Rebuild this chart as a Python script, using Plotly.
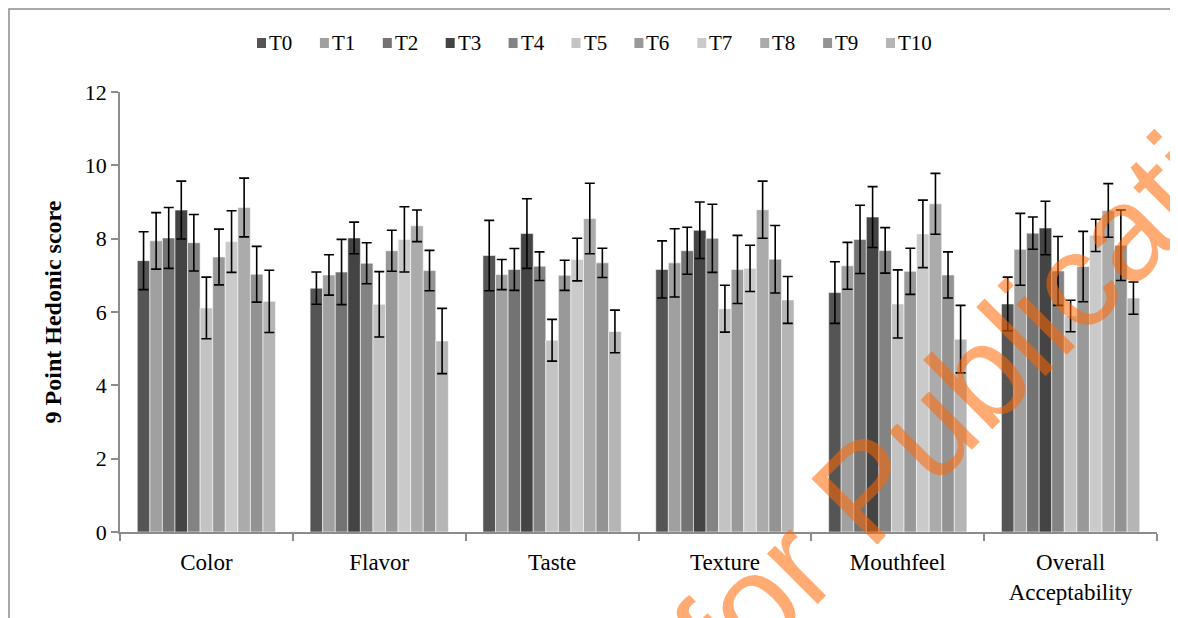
import plotly.graph_objects as go

categories = ["Color", "Flavor", "Taste", "Texture", "Mouthfeel", "Overall<br>Acceptability"]
treatments = ["T0", "T1", "T2", "T3", "T4", "T5", "T6", "T7", "T8", "T9", "T10"]

T0 = [7.40, 6.65, 7.54, 7.16, 6.53, 6.22]
T1 = [7.94, 7.01, 7.02, 7.34, 7.26, 7.71]
T2 = [8.02, 7.09, 7.16, 7.67, 7.98, 8.15]
T3 = [8.78, 8.02, 8.14, 8.23, 8.59, 8.29]
T4 = [7.89, 7.33, 7.25, 8.01, 7.68, 7.12]
T5 = [6.11, 6.21, 5.23, 6.09, 6.22, 5.89]
T6 = [7.50, 7.67, 7.00, 7.16, 7.11, 7.24]
T7 = [7.92, 7.98, 7.43, 7.19, 8.13, 8.09]
T8 = [8.85, 8.35, 8.55, 8.79, 8.95, 8.77]
T9 = [7.03, 7.13, 7.34, 7.44, 7.01, 7.82]
T10 = [6.29, 5.21, 5.47, 6.33, 5.26, 6.38]

E0 = [0.79, 0.44, 0.96, 0.78, 0.84, 0.73]
E1 = [0.77, 0.55, 0.41, 0.93, 0.64, 0.98]
E2 = [0.83, 0.89, 0.57, 0.64, 0.93, 0.44]
E3 = [0.79, 0.43, 0.95, 0.77, 0.83, 0.73]
E4 = [0.77, 0.56, 0.39, 0.93, 0.62, 0.94]
E5 = [0.84, 0.89, 0.57, 0.64, 0.93, 0.43]
E6 = [0.76, 0.56, 0.41, 0.93, 0.63, 0.96]
E7 = [0.84, 0.89, 0.58, 0.63, 0.92, 0.44]
E8 = [0.80, 0.43, 0.96, 0.78, 0.83, 0.73]
E9 = [0.76, 0.55, 0.40, 0.92, 0.63, 0.96]
E10 = [0.85, 0.89, 0.58, 0.64, 0.92, 0.44]

means = [T0, T1, T2, T3, T4, T5, T6, T7, T8, T9, T10]
errors = [E0, E1, E2, E3, E4, E5, E6, E7, E8, E9, E10]
colors = ["#555555", "#a0a0a0", "#737373", "#444444", "#838383", "#c3c3c3",
          "#999999", "#cacaca", "#ababab", "#939393", "#b5b5b5"]

FONT = "Liberation Serif, Times New Roman, serif"

# page layout (page pixels; the html body adds an 8px offset)
OFF = 8
PX_L, PX_R, PX_T, PX_B = 120, 1157, 92, 532
FIG_W, FIG_H = 1178 - OFF, 618 - OFF


def px2x(px):
    return (px - PX_L) / (PX_R - PX_L)


def py2y(py):
    return (PX_B - py) / (PX_B - PX_T)


fig = go.Figure()
for name, m, e, c in zip(treatments, means, errors, colors):
    fig.add_trace(go.Bar(
        name=name, x=categories, y=m, showlegend=False,
        marker=dict(color=c, line=dict(color="rgba(255,255,255,0.55)", width=1)),
        error_y=dict(type="data", array=e, visible=True, color="black",
                     thickness=1.6, width=5),
    ))

shapes = [dict(type="rect", xref="paper", yref="paper",
               x0=px2x(OFF + 1), x1=px2x(1195), y0=py2y(640), y1=py2y(OFF + 1),
               line=dict(color="#8c8c8c", width=1.5), fillcolor="rgba(0,0,0,0)",
               layer="below")]
annotations = []

# legend drawn as swatches + labels across the top
leg_x0, leg_pitch, leg_y = 257, 62.9, 43
for i, (name, c) in enumerate(zip(treatments, colors)):
    sx = leg_x0 + i * leg_pitch
    shapes.append(dict(type="rect", xref="paper", yref="paper",
                       x0=px2x(sx), x1=px2x(sx + 9), y0=py2y(leg_y + 5), y1=py2y(leg_y - 5),
                       fillcolor=c, line=dict(width=0)))
    annotations.append(dict(text=name, xref="paper", yref="paper",
                            x=px2x(sx + 10), y=py2y(leg_y), xanchor="left", yanchor="middle",
                            showarrow=False, font=dict(family=FONT, size=21, color="black")))

annotations.append(dict(text="for Publication", xref="paper", yref="paper",
                        x=px2x(1000), y=py2y(355), xanchor="center", yanchor="middle",
                        showarrow=False, textangle=-45,
                        font=dict(family="Liberation Sans, Arial, sans-serif", size=135,
                                  color="rgba(255,102,0,0.55)")))

fig.update_layout(
    width=FIG_W, height=FIG_H,
    barmode="group", bargap=0.2, bargroupgap=0,
    plot_bgcolor="white", paper_bgcolor="white",
    margin=dict(l=PX_L - OFF, r=1178 - PX_R, t=PX_T - OFF, b=618 - PX_B, pad=0),
    font=dict(family=FONT, size=21, color="black"),
    showlegend=False,
    xaxis=dict(type="category", showline=True, linecolor="#8c8c8c", linewidth=1.5,
               ticks="outside", tickson="boundaries", ticklen=7, tickcolor="#8c8c8c",
               tickwidth=1.5, showgrid=False, ticklabelstandoff=9,
               tickfont=dict(family=FONT, size=23, color="black")),
    yaxis=dict(range=[0, 12], dtick=2, showline=True, linecolor="#8c8c8c", linewidth=1.5,
               ticks="outside", ticklen=7, tickcolor="#8c8c8c", tickwidth=1.5,
               showgrid=False, zeroline=False,
               tickfont=dict(family=FONT, size=22, color="black"),
               title=dict(text="<b>9 Point Hedonic score</b>",
                          font=dict(family=FONT, size=24, color="black"), standoff=16)),
    shapes=shapes,
    annotations=annotations,
)

fig.write_html("out.html")
